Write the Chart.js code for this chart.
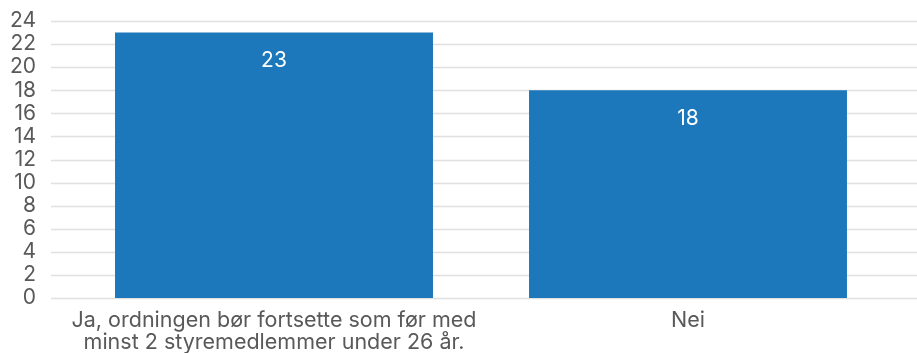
<!DOCTYPE html>
<html>
<head>
<meta charset="utf-8">
<script src="https://cdn.jsdelivr.net/npm/chart.js@4/dist/chart.umd.min.js"></script>
<style>
  html, body { margin: 0; padding: 0; background: #fff; }
  #wrap { width: 917px; height: 353px; }
</style>
</head>
<body>
<div id="wrap"><canvas id="svarChart" width="917" height="353"></canvas></div>
<script>
// Svar på spørsmålet om ordningen
const categories = [
    ['Ja, ordningen bør fortsette som før med', 'minst 2 styremedlemmer under 26 år.'],
    'Nei'
];
const answers = [23, 18];
const yTicks = [0, 2, 4, 6, 8, 10, 12, 14, 16, 18, 20, 22, 24];

const textColor = '#595959';
const gridColor = '#e0e0e0';
const barColor = '#1c77bb';

// Horizontal grid lines, a bit wider than the plot area
const wideGrid = {
    id: 'wideGrid',
    beforeDatasetsDraw(chart) {
        const ctx = chart.ctx;
        const y = chart.scales.y;
        const area = chart.chartArea;
        ctx.save();
        ctx.strokeStyle = gridColor;
        ctx.lineWidth = 1.5;
        yTicks.forEach(v => {
            const py = Math.round(y.getPixelForValue(v)) + 0.5;
            ctx.beginPath();
            ctx.moveTo(area.left - 16, py);
            ctx.lineTo(chart.width, py);
            ctx.stroke();
        });
        ctx.restore();
    }
};

// Value labels inside the top of each bar
const barValues = {
    id: 'barValues',
    afterDatasetsDraw(chart) {
        const ctx = chart.ctx;
        const meta = chart.getDatasetMeta(0);
        ctx.save();
        ctx.fillStyle = '#ffffff';
        ctx.font = '21px Inter';
        ctx.textAlign = 'center';
        ctx.textBaseline = 'middle';
        meta.data.forEach((bar, i) => {
            ctx.fillText(String(answers[i]), bar.x, bar.y + 28);
        });
        ctx.restore();
    }
};

const svarChart = new Chart(document.getElementById('svarChart'), {
    type: 'bar',
    data: {
        labels: categories,
        datasets: [{
            data: answers,
            backgroundColor: barColor,
            borderWidth: 0,
            categoryPercentage: 1,
            barPercentage: 0.768
        }]
    },
    options: {
        responsive: false,
        animation: false,
        layout: {
            padding: { top: 21, right: 22, bottom: 0, left: 10 }
        },
        plugins: {
            legend: { display: false },
            tooltip: { enabled: false }
        },
        scales: {
            x: {
                grid: { display: false, drawTicks: false },
                border: { display: false },
                afterFit(axis) { axis.height = 55; },
                ticks: {
                    color: textColor,
                    font: { family: 'Inter', size: 21.5, lineHeight: 1.03 },
                    padding: 11,
                    maxRotation: 0,
                    autoSkip: false
                }
            },
            y: {
                min: 0,
                max: 24,
                grid: { display: false, drawTicks: false },
                border: { display: false },
                afterFit(axis) {
                    axis.width = 57;
                    axis.paddingTop = 0;
                    axis.paddingBottom = 0;
                },
                afterBuildTicks(axis) {
                    axis.ticks = yTicks.map(v => ({ value: v }));
                },
                ticks: {
                    color: textColor,
                    font: { family: 'Inter', size: 21 },
                    padding: 31,
                    autoSkip: false
                }
            }
        }
    },
    plugins: [wideGrid, barValues]
});
</script>
</body>
</html>
